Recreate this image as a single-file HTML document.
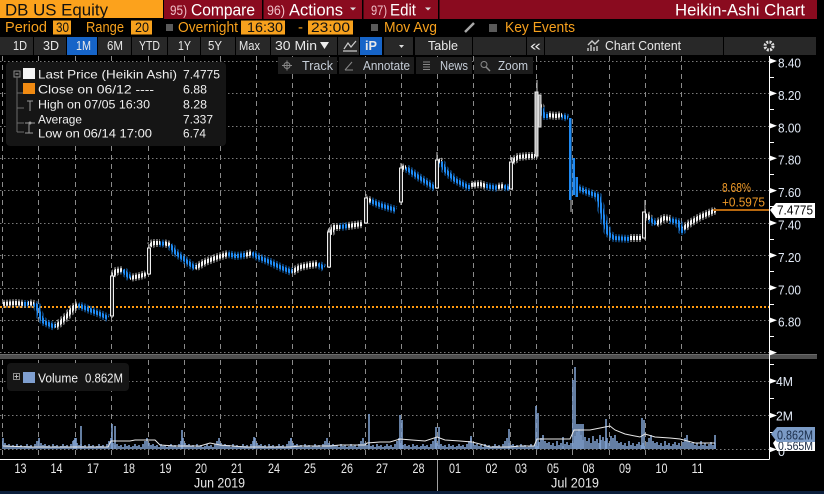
<!DOCTYPE html>
<html><head><meta charset="utf-8">
<style>
html,body{margin:0;padding:0;background:#000;overflow:hidden;width:824px;height:494px}
svg{display:block}
text{font-family:"Liberation Sans",sans-serif}
</style></head>
<body>
<svg width="824" height="494" viewBox="0 0 824 494" xmlns="http://www.w3.org/2000/svg" xmlns:xlink="http://www.w3.org/1999/xlink">
<defs>
<pattern id="stripes" patternUnits="userSpaceOnUse" x="0" y="0" width="3" height="10"><rect x="0" y="0" width="2" height="10" fill="#fff"/></pattern>
<pattern id="wstripes" patternUnits="userSpaceOnUse" x="0" y="0" width="3" height="10"><rect x="0.5" y="0" width="1" height="10" fill="#fff"/></pattern>
<mask id="cm" maskUnits="userSpaceOnUse" x="0" y="56" width="769" height="300"><rect x="0" y="56" width="769" height="300" fill="url(#stripes)"/></mask>
<mask id="wm" maskUnits="userSpaceOnUse" x="0" y="56" width="769" height="300"><rect x="0" y="56" width="769" height="300" fill="url(#wstripes)"/></mask>
<g id="cw" fill="none" stroke-linejoin="round">
<g stroke="#f0f0f0">
<polyline points="3,304 16,303 24,304"/>
<polyline points="28,303 34,304"/>
<polyline points="55,327 60,323 67,316 74,307 78,305"/>
<polyline points="113,276 116,271 123,270"/>
<polyline points="130,278 140,276 146,274"/>
<polyline points="150,246 153,243 160,243"/>
<polyline points="164,243 170,245"/>
<polyline points="195,268 205,262 218,257 228,254"/>
<polyline points="245,255 252,253"/>
<polyline points="292,272 300,267 310,265 318,264"/>
<polyline points="330,234 334,227 340,227"/>
<polyline points="348,226 362,224"/>
<polyline points="366,199 371,201"/>
<polyline points="402,168 406,167"/>
<polyline points="438,160 441,162"/>
<polyline points="471,185 480,184 486,186"/>
<polyline points="497,187 504,186"/>
<polyline points="512,162 518,157 528,156 535,156"/>
<polyline points="538,100 541,108"/>
<polyline points="548,115 556,116 562,115"/>
<polyline points="630,238 642,238"/>
<polyline points="646,214 650,219"/>
<polyline points="656,224 664,218 670,219"/>
<polyline points="683,229 690,223 700,217 716,210"/>
</g>
<g stroke="#1f8af2">
<polyline points="24,304 28,304"/>
<polyline points="34,304 37,306 40,316 44,322 55,327"/>
<polyline points="78,305 90,310 100,314 108,318"/>
<polyline points="123,270 130,278"/>
<polyline points="160,243 164,244"/>
<polyline points="170,245 175,252 185,260 195,268"/>
<polyline points="228,254 236,256 245,255"/>
<polyline points="252,253 258,257 270,262 282,268 292,272"/>
<polyline points="318,264 324,268"/>
<polyline points="340,227 348,226"/>
<polyline points="371,201 380,205 396,210"/>
<polyline points="406,168 420,178 435,188"/>
<polyline points="441,162 445,170 455,180 468,187 471,187"/>
<polyline points="486,186 497,188"/>
<polyline points="504,186 509,189"/>
<polyline points="541,108 544,116 548,116"/>
<polyline points="562,116 568,118"/>
<polyline points="578,188 590,193 598,196 604,220 608,233 614,238 630,239"/>
<polyline points="650,219 656,224"/>
<polyline points="670,220 678,222 682,231 683,229"/>
</g>
</g>
<pattern id="va" patternUnits="userSpaceOnUse" x="2" y="409" width="36" height="40"><g fill="#7d9dcb">
<rect x="0.2" y="29" width="1.6" height="11"/><rect x="2.2" y="34" width="1.6" height="6"/><rect x="4.2" y="36" width="1.6" height="4"/><rect x="6.2" y="35" width="1.6" height="5"/><rect x="8.2" y="37" width="1.6" height="3"/><rect x="10.2" y="36" width="1.6" height="4"/><rect x="12.2" y="38" width="1.6" height="2"/><rect x="14.2" y="35" width="1.6" height="5"/><rect x="16.2" y="37" width="1.6" height="3"/><rect x="18.2" y="36" width="1.6" height="4"/><rect x="20.2" y="38" width="1.6" height="2"/><rect x="22.2" y="37" width="1.6" height="3"/><rect x="24.2" y="35" width="1.6" height="5"/><rect x="26.2" y="37" width="1.6" height="3"/><rect x="28.2" y="36" width="1.6" height="4"/><rect x="30.2" y="38" width="1.6" height="2"/><rect x="32.2" y="35" width="1.6" height="5"/><rect x="34.2" y="32" width="1.6" height="8"/>
</g></pattern>
<pattern id="va2" patternUnits="userSpaceOnUse" x="2" y="409" width="36" height="40"><g fill="#7d9dcb">
<rect x="0.2" y="26" width="1.6" height="14"/><rect x="2.2" y="32" width="1.6" height="8"/><rect x="4.2" y="34" width="1.6" height="6"/><rect x="6.2" y="33" width="1.6" height="7"/><rect x="8.2" y="36" width="1.6" height="4"/><rect x="10.2" y="34" width="1.6" height="6"/><rect x="12.2" y="37" width="1.6" height="3"/><rect x="14.2" y="32" width="1.6" height="8"/><rect x="16.2" y="36" width="1.6" height="4"/><rect x="18.2" y="34" width="1.6" height="6"/><rect x="20.2" y="37" width="1.6" height="3"/><rect x="22.2" y="35" width="1.6" height="5"/><rect x="24.2" y="33" width="1.6" height="7"/><rect x="26.2" y="36" width="1.6" height="4"/><rect x="28.2" y="34" width="1.6" height="6"/><rect x="30.2" y="37" width="1.6" height="3"/><rect x="32.2" y="33" width="1.6" height="7"/><rect x="34.2" y="29" width="1.6" height="11"/>
</g></pattern>
<pattern id="vb" patternUnits="userSpaceOnUse" x="2" y="409" width="36" height="40"><g fill="#7d9dcb">
<rect x="0.2" y="20" width="1.6" height="20"/><rect x="2.2" y="26" width="1.6" height="14"/><rect x="4.2" y="31" width="1.6" height="9"/><rect x="6.2" y="28" width="1.6" height="12"/><rect x="8.2" y="32" width="1.6" height="8"/><rect x="10.2" y="29" width="1.6" height="11"/><rect x="12.2" y="34" width="1.6" height="6"/><rect x="14.2" y="27" width="1.6" height="13"/><rect x="16.2" y="32" width="1.6" height="8"/><rect x="18.2" y="30" width="1.6" height="10"/><rect x="20.2" y="34" width="1.6" height="6"/><rect x="22.2" y="31" width="1.6" height="9"/><rect x="24.2" y="28" width="1.6" height="12"/><rect x="26.2" y="32" width="1.6" height="8"/><rect x="28.2" y="29" width="1.6" height="11"/><rect x="30.2" y="34" width="1.6" height="6"/><rect x="32.2" y="27" width="1.6" height="13"/><rect x="34.2" y="23" width="1.6" height="17"/>
</g></pattern>
</defs>
<rect width="824" height="494" fill="#000"/>

<!-- grid -->
<path d="M0 61.5H769M0 93.5H769M0 126.5H769M0 158.5H769M0 190.5H769M0 223.5H769M0 255.5H769M0 288.5H769M0 320.5H769M0 352.5H769M0 381.5H769M0 415.5H769M0 449.5H769" stroke="#7a7a7a" stroke-width="1" stroke-dasharray="1.5 2.5" fill="none"/>
<path d="M2.5 56V353M38.5 56V353M75.5 56V353M111.5 56V353M148.5 56V353M184.5 56V353M220.5 56V353M256.5 56V353M292.5 56V353M329.5 56V353M365.5 56V353M401.5 56V353M437.5 56V353M473.5 56V353M510.5 56V353M536.5 56V353M572.5 56V353M609.5 56V353M645.5 56V353M681.5 56V353" stroke="#8a8a8a" stroke-width="1" stroke-dasharray="5 4" fill="none"/>
<path d="M2.5 360V459M38.5 360V459M75.5 360V459M111.5 360V459M148.5 360V459M184.5 360V459M220.5 360V459M256.5 360V459M292.5 360V459M329.5 360V459M365.5 360V459M401.5 360V459M437.5 360V459M473.5 360V459M510.5 360V459M536.5 360V459M572.5 360V459M609.5 360V459M645.5 360V459M681.5 360V459" stroke="#8a8a8a" stroke-width="1" stroke-dasharray="5 4" fill="none"/>

<!-- close line -->
<path d="M0 307H769" stroke="#ff9a10" stroke-width="2" stroke-dasharray="2 2"/>

<!-- candles: wicks then bodies -->
<use href="#cw" xlink:href="#cw" stroke-width="8" mask="url(#wm)" opacity="0.85"/>
<use href="#cw" xlink:href="#cw" stroke-width="4" mask="url(#cm)"/>

<!-- jump candles -->
<g stroke-width="1">
<path d="M112 272V318M149 244V275M329 228V268M366 194V224M401 163V205M437 152V189M512 157V190M537 80V158M571 198V212M645 200V240" stroke="#c8c8c8"/>
<rect x="110.5" y="276" width="3" height="40" fill="#2a2a2a" stroke="#eee"/>
<rect x="147.5" y="248" width="3" height="26" fill="#2a2a2a" stroke="#eee"/>
<rect x="327.5" y="232" width="3" height="35" fill="#2a2a2a" stroke="#eee"/>
<rect x="364.5" y="198" width="3" height="25" fill="#2a2a2a" stroke="#eee"/>
<rect x="399.5" y="168" width="3" height="34" fill="#2a2a2a" stroke="#eee"/>
<rect x="435.5" y="160" width="3" height="28" fill="#2a2a2a" stroke="#eee"/>
<rect x="509.5" y="162" width="3" height="27" fill="#2a2a2a" stroke="#eee"/>
<rect x="535" y="92" width="3" height="64" fill="#b8b8b8" stroke="#eee"/>
<rect x="538.5" y="95" width="2.5" height="32" fill="#999" stroke="#ddd"/>
<rect x="642.5" y="212" width="3" height="26" fill="#2a2a2a" stroke="#eee"/>
</g>
<rect x="569" y="118" width="2.5" height="82" fill="#1f8af2"/>
<rect x="572.5" y="158" width="2.5" height="37" fill="#1f8af2"/>
<rect x="575.5" y="177" width="2.5" height="20" fill="#1f8af2"/>

<!-- volume -->
<rect x="2" y="409" width="534" height="40" fill="url(#va)"/>
<rect x="536" y="409" width="36" height="40" fill="url(#va2)"/>
<rect x="572" y="409" width="40" height="40" fill="url(#vb)"/>
<rect x="612" y="409" width="104" height="40" fill="url(#va2)"/>
<path d="M81 449V426M112 449V424M115 449V426M182 449V430M254 449V437M291 449V438M369 449V414M400 449V415M402 449V420M436 449V427M439 449V427M471 449V436M509 449V429M536 449V406M538 449V413M573 449V380M575 449V367M577 449V424M579 449V424M581 449V424M583 449V424M606 449V419M642 449V418M644 449V420M715 449V435M74 449V440M76 449V438M563 449V437M600 449V435" stroke="#7d9dcb" stroke-width="1.6"/>
<polyline fill="none" stroke="#e8e8e8" stroke-width="1" points="3,446 30,447 108,447 111,441 130,441 135,440 155,440 160,445 175,446 200,446 210,443 220,445 245,447 290,447 300,446 330,446 340,445 365,445 367,443 380,442 390,442 400,439 412,440 425,441 437,437 445,440 460,441 472,442 480,444 490,447 510,447 520,446 534,446 537,439 545,439 570,439 574,430 590,430 600,428 610,426 615,430 625,434 640,437 645,434 655,437 670,438 680,439 695,443 715,443"/>

<!-- separator -->
<rect x="0" y="354" width="817" height="5" fill="#4e4e4e"/>
<rect x="0" y="354" width="817" height="1" fill="#6a6a6a"/>

<!-- axes -->
<path d="M769.5 56V459.5M0 459.5H769.5" stroke="#fff" stroke-width="1" fill="none"/>
<g fill="#fff">
<polygon points="769,58 777,61 769,64"/><polygon points="769,90.4 777,93.4 769,96.4"/><polygon points="769,122.8 777,125.8 769,128.8"/><polygon points="769,155.2 777,158.2 769,161.2"/><polygon points="769,187.6 777,190.6 769,193.6"/><polygon points="769,220 777,223 769,226"/><polygon points="769,252.4 777,255.4 769,258.4"/><polygon points="769,284.8 777,287.8 769,290.8"/><polygon points="769,317.2 777,320.2 769,323.2"/><polygon points="769,349.6 777,352.6 769,355.6"/>
<polygon points="769,378 777,381 769,384"/><polygon points="769,412.5 777,415.5 769,418.5"/><polygon points="769,446.5 777,449.5 769,452.5"/>
</g>
<path d="M769 77.5H774M769 109.5H774M769 142.5H774M769 174.5H774M769 206.5H774M769 239.5H774M769 271.5H774M769 304.5H774M769 336.5H774M769 364.5H774M769 398.5H774M769 432.5H774" stroke="#fff" stroke-width="1"/>

<g font-size="12.5" fill="#e2eaf6">
<text x="778" y="67.5" textLength="23" lengthAdjust="spacingAndGlyphs">8.40</text>
<text x="778" y="99.9" textLength="23" lengthAdjust="spacingAndGlyphs">8.20</text>
<text x="778" y="132.3" textLength="23" lengthAdjust="spacingAndGlyphs">8.00</text>
<text x="778" y="164.7" textLength="23" lengthAdjust="spacingAndGlyphs">7.80</text>
<text x="778" y="197.1" textLength="23" lengthAdjust="spacingAndGlyphs">7.60</text>
<text x="778" y="229.5" textLength="23" lengthAdjust="spacingAndGlyphs">7.40</text>
<text x="778" y="261.9" textLength="23" lengthAdjust="spacingAndGlyphs">7.20</text>
<text x="778" y="294.3" textLength="23" lengthAdjust="spacingAndGlyphs">7.00</text>
<text x="778" y="326.7" textLength="23" lengthAdjust="spacingAndGlyphs">6.80</text>
<text x="776" y="386" textLength="17" lengthAdjust="spacingAndGlyphs">4M</text>
<text x="776" y="420.5" textLength="17" lengthAdjust="spacingAndGlyphs">2M</text>
<text x="778" y="456">0</text>
</g>

<!-- last price label -->
<path d="M713 210H769" stroke="#b8680e" stroke-width="2"/>
<text x="722" y="192" font-size="13" fill="#f09a28" textLength="29" lengthAdjust="spacingAndGlyphs">8.68%</text>
<text x="722" y="206.5" font-size="13" fill="#f09a28" textLength="43" lengthAdjust="spacingAndGlyphs">+0.5975</text>
<polygon points="770,210 776,203 815,203 815,218 776,218" fill="#fff"/>
<text x="777" y="214.5" font-size="13" fill="#000" textLength="36" lengthAdjust="spacingAndGlyphs">7.4775</text>

<!-- volume labels -->
<polygon points="773,443 777,438 815,438 815,451 777,451" fill="#fff"/>
<text x="778" y="450" font-size="12" fill="#1a2a44" textLength="35" lengthAdjust="spacingAndGlyphs">0.565M</text>
<polygon points="771,434 777,427 815,427 815,442 777,442" fill="#7b9bc6"/>
<text x="777" y="439.5" font-size="13" fill="#1b2e4a" textLength="36" lengthAdjust="spacingAndGlyphs">0.862M</text>

<!-- date labels -->
<g font-size="14" fill="#e8e8e8" text-anchor="middle">
<text x="20.5" y="473" textLength="12" lengthAdjust="spacingAndGlyphs">13</text>
<text x="56.5" y="473" textLength="12" lengthAdjust="spacingAndGlyphs">14</text>
<text x="93" y="473" textLength="12" lengthAdjust="spacingAndGlyphs">17</text>
<text x="129" y="473" textLength="12" lengthAdjust="spacingAndGlyphs">18</text>
<text x="165.5" y="473" textLength="12" lengthAdjust="spacingAndGlyphs">19</text>
<text x="201" y="473" textLength="12" lengthAdjust="spacingAndGlyphs">20</text>
<text x="237" y="473" textLength="12" lengthAdjust="spacingAndGlyphs">21</text>
<text x="274" y="473" textLength="12" lengthAdjust="spacingAndGlyphs">24</text>
<text x="310" y="473" textLength="12" lengthAdjust="spacingAndGlyphs">25</text>
<text x="347" y="473" textLength="12" lengthAdjust="spacingAndGlyphs">26</text>
<text x="382" y="473" textLength="12" lengthAdjust="spacingAndGlyphs">27</text>
<text x="418.5" y="473" textLength="12" lengthAdjust="spacingAndGlyphs">28</text>
<text x="455" y="473" textLength="12" lengthAdjust="spacingAndGlyphs">01</text>
<text x="491.5" y="473" textLength="12" lengthAdjust="spacingAndGlyphs">02</text>
<text x="521" y="473" textLength="12" lengthAdjust="spacingAndGlyphs">03</text>
<text x="553" y="473" textLength="12" lengthAdjust="spacingAndGlyphs">05</text>
<text x="588.5" y="473" textLength="12" lengthAdjust="spacingAndGlyphs">08</text>
<text x="625" y="473" textLength="12" lengthAdjust="spacingAndGlyphs">09</text>
<text x="661.5" y="473" textLength="12" lengthAdjust="spacingAndGlyphs">10</text>
<text x="697.5" y="473" textLength="12" lengthAdjust="spacingAndGlyphs">11</text>
<text x="219.5" y="487.5" textLength="51" lengthAdjust="spacingAndGlyphs">Jun 2019</text>
<text x="575" y="487.5" textLength="48" lengthAdjust="spacingAndGlyphs">Jul 2019</text>
</g>
<path d="M437.5 460V491" stroke="#a0a0a0" stroke-width="1"/>
<rect x="0" y="491" width="824" height="3" fill="#0c1f3c"/>

<!-- legend box -->
<rect x="6" y="62" width="220" height="84" rx="4" fill="#151515"/>
<rect x="14" y="71" width="6" height="6" fill="none" stroke="#8a8a8a" stroke-width="1"/>
<path d="M15.5 74H18.5" stroke="#bbb"/>
<path d="M17 77V132M17 93H23M17 108H24M17 123H24M17 132H24" stroke="#6a6a6a" stroke-width="1" fill="none"/>
<rect x="23" y="68" width="12" height="11" fill="#f4f4f4"/>
<rect x="23" y="83" width="12" height="11" fill="#f08a12"/>
<path d="M27 101H33M30 101V111M25 123H35M29 133V124M25 133H33" stroke="#999" stroke-width="1" fill="none"/>
<circle cx="30" cy="123" r="1.5" fill="#999"/>
<g font-size="12" fill="#f0f0f0">
<text x="38" y="78.3" textLength="139" lengthAdjust="spacingAndGlyphs">Last Price (Heikin Ashi)</text>
<text x="183" y="78.3" textLength="37" lengthAdjust="spacingAndGlyphs">7.4775</text>
<text x="38" y="93.3" textLength="116" lengthAdjust="spacingAndGlyphs">Close on 06/12 ----</text>
<text x="183" y="93.3" textLength="24" lengthAdjust="spacingAndGlyphs">6.88</text>
<text x="38" y="108.3" textLength="112" lengthAdjust="spacingAndGlyphs">High on 07/05 16:30</text>
<text x="183" y="108.3" textLength="24" lengthAdjust="spacingAndGlyphs">8.28</text>
<text x="38" y="123.3" textLength="44" lengthAdjust="spacingAndGlyphs">Average</text>
<text x="183" y="123.3" textLength="30" lengthAdjust="spacingAndGlyphs">7.337</text>
<text x="38" y="137.3" textLength="114" lengthAdjust="spacingAndGlyphs">Low on 06/14 17:00</text>
<text x="183" y="137.3" textLength="23" lengthAdjust="spacingAndGlyphs">6.74</text>
</g>

<!-- volume legend -->
<rect x="7" y="363" width="122" height="28" rx="4" fill="#151515"/>
<rect x="13.5" y="373.5" width="6" height="6" fill="none" stroke="#8a8a8a"/>
<path d="M14.5 376.5H18.5M16.5 374.5V378.5" stroke="#bbb"/>
<rect x="23" y="372" width="12" height="11" fill="#7f9fd0"/>
<text x="38" y="382.3" font-size="12.5" fill="#f0f0f0" textLength="40" lengthAdjust="spacingAndGlyphs">Volume</text>
<text x="85" y="382.3" font-size="12.5" fill="#f0f0f0" textLength="38" lengthAdjust="spacingAndGlyphs">0.862M</text>

<!-- Row 1 -->
<rect x="0" y="0" width="163" height="18" fill="#fca21c"/>
<rect x="164" y="0" width="653" height="19" fill="#8a0b1f"/>
<rect x="262" y="0" width="1.5" height="19" fill="#000"/>
<rect x="362" y="0" width="1.5" height="19" fill="#000"/>
<rect x="438" y="0" width="1.5" height="19" fill="#000"/>
<text x="5" y="15.5" font-size="17" fill="#111" textLength="103" lengthAdjust="spacingAndGlyphs">DB US Equity</text>
<text x="170" y="15" font-size="14" fill="#f0c0c8" textLength="17" lengthAdjust="spacingAndGlyphs">95)</text>
<text x="191" y="15.5" font-size="17" fill="#fff" textLength="64" lengthAdjust="spacingAndGlyphs">Compare</text>
<text x="267" y="15" font-size="14" fill="#f0c0c8" textLength="18" lengthAdjust="spacingAndGlyphs">96)</text>
<text x="289" y="15.5" font-size="17" fill="#fff" textLength="54" lengthAdjust="spacingAndGlyphs">Actions</text>
<polygon points="350,7.5 356,7.5 353,10.5" fill="#ddd"/>
<text x="371" y="15" font-size="14" fill="#f0c0c8" textLength="16" lengthAdjust="spacingAndGlyphs">97)</text>
<text x="390" y="15.5" font-size="17" fill="#fff" textLength="26" lengthAdjust="spacingAndGlyphs">Edit</text>
<polygon points="425,7.5 431,7.5 428,10.5" fill="#ddd"/>
<text x="675" y="15.5" font-size="17" fill="#fff" textLength="130" lengthAdjust="spacingAndGlyphs">Heikin-Ashi Chart</text>

<!-- Row 2 -->
<g font-size="15" fill="#f7a11d">
<text x="5" y="32" textLength="42" lengthAdjust="spacingAndGlyphs">Period</text>
<text x="86" y="32" textLength="38" lengthAdjust="spacingAndGlyphs">Range</text>
<text x="178" y="32" textLength="60" lengthAdjust="spacingAndGlyphs">Overnight</text>
<text x="298" y="32">-</text>
<text x="384" y="32" textLength="53" lengthAdjust="spacingAndGlyphs">Mov Avg</text>
<text x="505" y="32" textLength="70" lengthAdjust="spacingAndGlyphs">Key Events</text>
</g>
<rect x="53" y="20.5" width="18" height="14" fill="#f7a11d"/>
<rect x="131" y="20.5" width="21" height="14" fill="#f7a11d"/>
<rect x="241" y="20.5" width="44" height="14" fill="#f7a11d"/>
<rect x="308" y="20.5" width="45" height="14" fill="#f7a11d"/>
<g font-size="14" fill="#111">
<text x="56" y="32" textLength="13" lengthAdjust="spacingAndGlyphs">30</text>
<text x="135" y="32" textLength="14" lengthAdjust="spacingAndGlyphs">20</text>
<text x="247" y="32" textLength="36" lengthAdjust="spacingAndGlyphs">16:30</text>
<text x="311" y="32" textLength="39" lengthAdjust="spacingAndGlyphs">23:00</text>
</g>
<rect x="166" y="24" width="7" height="7" fill="#5a5a5a"/>
<rect x="371" y="24" width="7" height="7" fill="#5a5a5a"/>
<rect x="489" y="24" width="8" height="8" fill="#5a5a5a"/>
<path d="M465 32L474 23" stroke="#a8a8a8" stroke-width="2.5"/>

<!-- Row 3 -->
<g fill="#282828">
<rect x="0" y="37" width="33" height="18"/><rect x="34" y="37" width="32" height="18"/>
<rect x="98" y="37" width="33" height="18"/><rect x="132" y="37" width="35" height="18"/>
<rect x="168" y="37" width="32" height="18"/><rect x="201" y="37" width="34" height="18"/>
<rect x="236" y="37" width="34" height="18"/><rect x="271" y="37" width="66" height="18"/>
<rect x="338" y="37" width="21" height="18"/><rect x="384" y="37" width="29" height="18"/>
<rect x="415" y="37" width="57" height="18"/><rect x="473" y="37" width="53" height="18"/>
<rect x="527" y="37" width="17" height="18"/><rect x="545" y="37" width="178" height="18"/>
<rect x="724" y="37" width="92" height="18"/>
</g>
<rect x="67" y="37" width="30" height="18" fill="#1664c8"/>
<rect x="360" y="37" width="22" height="18" fill="#1664c8"/>
<g font-size="13" fill="#e8e8e8">
<text x="13" y="50" textLength="14" lengthAdjust="spacingAndGlyphs">1D</text>
<text x="43" y="50" textLength="16" lengthAdjust="spacingAndGlyphs">3D</text>
<text x="76" y="50" textLength="15" lengthAdjust="spacingAndGlyphs">1M</text>
<text x="107" y="50" textLength="16" lengthAdjust="spacingAndGlyphs">6M</text>
<text x="139" y="50" textLength="21" lengthAdjust="spacingAndGlyphs">YTD</text>
<text x="178" y="50" textLength="13" lengthAdjust="spacingAndGlyphs">1Y</text>
<text x="208" y="50" textLength="14" lengthAdjust="spacingAndGlyphs">5Y</text>
<text x="239" y="50" textLength="21" lengthAdjust="spacingAndGlyphs">Max</text>
<text x="275" y="50" textLength="42" lengthAdjust="spacingAndGlyphs">30 Min</text>
<text x="365" y="50" textLength="12" lengthAdjust="spacingAndGlyphs" font-weight="bold">iP</text>
<text x="428" y="50" textLength="30" lengthAdjust="spacingAndGlyphs">Table</text>
<text x="530" y="50.5" font-size="15" textLength="11" lengthAdjust="spacingAndGlyphs">«</text>
<text x="605" y="50" textLength="76" lengthAdjust="spacingAndGlyphs">Chart Content</text>
</g>
<polygon points="320,42 329,42 324.5,49" fill="#eee"/>
<polygon points="399,45 404,45 401.5,48" fill="#ddd"/>
<path d="M343 51H357M344 49L348 43L351 47L356 41" stroke="#ccc" stroke-width="1.2" fill="none"/>
<path d="M588 51V48M591 51V45M594 51V47M597 51V46M588 45L592 41L595 44L599 40" stroke="#ccc" stroke-width="1.4" fill="none"/>
<circle cx="769" cy="46" r="4" fill="none" stroke="#ddd" stroke-width="3" stroke-dasharray="2 1.2"/>
<circle cx="769" cy="46" r="1.4" fill="#282828"/>

<!-- Row 4 -->
<g fill="#1c1c1c">
<rect x="278" y="57" width="59" height="17"/><rect x="339" y="57" width="75" height="17"/>
<rect x="416" y="57" width="56" height="17"/><rect x="474" y="57" width="59" height="17"/>
</g>
<g font-size="13" fill="#c6ced8">
<text x="302" y="70" textLength="31" lengthAdjust="spacingAndGlyphs">Track</text>
<text x="363" y="70" textLength="47" lengthAdjust="spacingAndGlyphs">Annotate</text>
<text x="440" y="70" textLength="28" lengthAdjust="spacingAndGlyphs">News</text>
<text x="498" y="70" textLength="30" lengthAdjust="spacingAndGlyphs">Zoom</text>
</g>
<circle cx="287" cy="65.5" r="3" fill="none" stroke="#888"/>
<path d="M282 65.5H292M287 60.5V70.5" stroke="#888"/>
<path d="M345 70L352 62M345 70H353" stroke="#888" fill="none"/>
<path d="M423 62H430M423 64.5H430M423 67H430M423 69.5H430" stroke="#888"/>
<circle cx="484" cy="64.5" r="3" fill="none" stroke="#888"/>
<path d="M486 67L490 71" stroke="#888" stroke-width="1.5"/>
</svg>
</body></html>
